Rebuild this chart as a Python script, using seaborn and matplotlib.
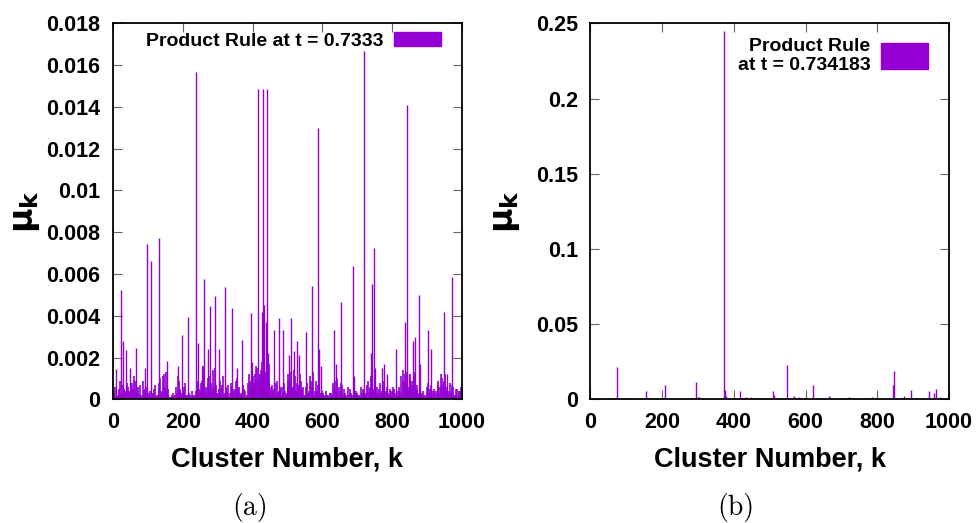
import matplotlib
matplotlib.use("Agg")
import matplotlib.pyplot as plt
from matplotlib.patches import Patch
import seaborn as sns
import numpy as np

# panel (a): product rule at t = 0.7333 -- visible spikes
spike_k_a = [8, 24, 29, 37, 49, 66, 92, 96, 109, 133, 142, 156, 187, 197, 216,
             237, 244, 255, 260, 272, 279, 292, 305, 320, 342, 355, 371, 396, 398, 415,
             428, 430, 432, 438, 442, 445, 462, 476, 488, 505, 511, 520, 528, 533, 553,
             572, 588, 590, 596, 635, 640, 654, 687, 690, 720, 740, 743, 748, 752, 771,
             776, 785, 812, 838, 844, 848, 860, 866, 877, 880, 904, 912, 949, 958, 972]
spike_mu_a = [0.00144, 0.00523, 0.0028, 0.00236, 0.0015, 0.00246, 0.0015, 0.00743, 0.00662, 0.00772,
              0.0009, 0.00183, 0.0016, 0.0031, 0.00396, 0.01568, 0.0027, 0.0016, 0.00576, 0.0024,
              0.00448, 0.00496, 0.0024, 0.00539, 0.00437, 0.0015, 0.00283, 0.00415, 0.0018, 0.01486,
              0.0042, 0.01486, 0.0045, 0.0037, 0.01486, 0.0022, 0.0033, 0.0039, 0.0033, 0.0021,
              0.0039, 0.0023, 0.0028, 0.0021, 0.0032, 0.00544, 0.0130, 0.0024, 0.0016, 0.0033,
              0.0017, 0.00466, 0.00638, 0.0011, 0.01669, 0.0022, 0.00552, 0.00723, 0.0015, 0.0015,
              0.0017, 0.0012, 0.0024, 0.0037, 0.01409, 0.0012, 0.0028, 0.0030, 0.00499, 0.0017,
              0.0033, 0.0024, 0.0042, 0.0012, 0.00587]

# panel (a): low background read off in 1e-4 units
# clusters 3, 8, 13, ...
base_k_a = list(range(3, 1000, 5))
base_mu_a = [3, 1, 2, 5, 3, 7, 4, 2, 6, 3,
             8, 5, 9, 3, 6, 2, 1, 4, 2, 6,
             3, 1, 2, 5, 1, 2, 8, 4, 11, 6,
             13, 5, 1, 2, 1, 2, 3, 9, 4, 2,
             6, 2, 1, 3, 1, 2, 1, 4, 6, 3,
             8, 16, 5, 3, 7, 11, 4, 6, 15, 3,
             5, 2, 7, 3, 6, 4, 1, 8, 3, 5,
             9, 5, 3, 1, 7, 4, 2, 1, 9, 10,
             8, 12, 15, 10, 14, 11, 9, 13, 8, 17,
             6, 4, 2, 8, 3, 5, 2, 6, 4, 3,
             12, 7, 5, 14, 4, 8, 3, 9, 5, 2,
             6, 3, 1, 9, 13, 4, 2, 7, 3, 2,
             3, 1, 2, 1, 3, 2, 5, 9, 4, 6,
             8, 3, 5, 2, 6, 1, 3, 1, 2, 4,
             2, 1, 3, 5, 2, 7, 3, 5, 8, 4,
             4, 2, 5, 3, 6, 2, 4, 3, 5, 2,
             6, 3, 1, 2, 4, 3, 9, 12, 8, 6,
             10, 7, 13, 5, 4, 3, 2, 4, 1, 2,
             8, 5, 2, 4, 3, 1, 7, 6, 10, 9,
             12, 6, 4, 3, 7, 2, 5, 1, 4, 6]
# clusters 1, 6, 11, ...
base2_k_a = list(range(1, 1000, 5))
base2_mu_a = [2, 6, 1, 4, 9, 2, 5, 3, 8, 4,
              5, 2, 11, 4, 3, 7, 2, 9, 5, 3,
              2, 4, 1, 3, 7, 2, 5, 10, 3, 12,
              4, 2, 1, 1, 3, 1, 6, 11, 5, 3,
              3, 8, 2, 1, 2, 4, 1, 2, 9, 5,
              4, 9, 12, 6, 10, 3, 8, 14, 5, 7,
              3, 9, 5, 11, 2, 4, 7, 3, 6, 2,
              4, 10, 6, 2, 3, 5, 1, 8, 12, 6,
              11, 6, 16, 9, 12, 18, 14, 10, 15, 9,
              3, 7, 5, 2, 9, 4, 6, 3, 8, 2,
              9, 4, 13, 6, 11, 3, 7, 12, 4, 6,
              2, 8, 4, 11, 6, 2, 9, 4, 12, 3,
              1, 2, 4, 2, 1, 3, 8, 4, 10, 2,
              4, 7, 2, 3, 1, 2, 5, 2, 9, 3,
              3, 2, 6, 2, 4, 3, 9, 6, 11, 5,
              2, 6, 3, 8, 4, 9, 3, 6, 2, 4,
              3, 5, 2, 4, 6, 11, 14, 9, 13, 4,
              12, 9, 5, 11, 7, 2, 5, 3, 2, 1,
              6, 3, 7, 2, 5, 4, 9, 3, 12, 7,
              9, 4, 2, 8, 3, 6, 2, 5, 3, 4]

# panel (b): product rule at t = 0.734183
spike_k_b = [57, 73, 99, 154, 160, 181, 208, 294, 300, 304, 372, 375, 378, 418, 427,
             433, 448, 493, 510, 512, 547, 565, 567, 583, 598, 620, 621, 641, 664, 668,
             700, 706, 721, 731, 786, 844, 848, 874, 895, 912, 944, 958, 963, 976, 988]
spike_mu_b = [0.001, 0.0213, 0.0007, 0.0055, 0.0012, 0.0011, 0.0095, 0.0115, 0.0013, 0.0013,
              0.2449, 0.0062, 0.0025, 0.0057, 0.0008, 0.0013, 0.0016, 0.0008, 0.0057, 0.0028,
              0.0228, 0.0015, 0.0025, 0.0013, 0.0012, 0.0014, 0.0098, 0.0010, 0.0021, 0.0014,
              0.0009, 0.0008, 0.0013, 0.0010, 0.0018, 0.0095, 0.0188, 0.0020, 0.0059, 0.0012,
              0.0057, 0.0044, 0.0071, 0.0014, 0.0008]

yticks_a = [0, 0.002, 0.004, 0.006, 0.008, 0.01, 0.012, 0.014, 0.016, 0.018]
yticks_b = [0, 0.05, 0.1, 0.15, 0.2, 0.25]
xticks = [0, 200, 400, 600, 800, 1000]

purple = "#9400d3"

sns.set_style("ticks")
plt.rcParams['font.family'] = ['Liberation Sans Narrow', 'DejaVu Sans Condensed',
                               'Liberation Sans', 'DejaVu Sans']
plt.rcParams['font.weight'] = 'bold'
plt.rcParams['text.color'] = 'black'
plt.rcParams['axes.labelcolor'] = 'black'
plt.rcParams['mathtext.fontset'] = 'dejavusans'

fig = plt.figure(figsize=(9.77, 5.23), dpi=100)
ax_a = fig.add_axes([0.1157, 0.2365, 0.3569, 0.7189])
ax_b = fig.add_axes([0.6044, 0.2365, 0.3669, 0.7189])


def style_axis(ax, yticks, ylim, ylabel_x):
    ax.set_xlim(0, 1000)
    ax.set_ylim(*ylim)
    ax.set_xticks(xticks)
    ax.set_yticks(yticks)
    ax.set_yticklabels([f"{v:g}" for v in yticks])
    ax.tick_params(direction='in', length=6.5, width=0.8, color='#666666',
                   labelcolor='black', top=True, right=True, labelsize=15.5, pad=9)
    for s in ax.spines.values():
        s.set_color('black')
        s.set_linewidth(1.3)
    ax.set_xlabel("Cluster Number, k", fontsize=19.5, fontweight='bold')
    ax.xaxis.set_label_coords(0.5, -0.125)
    ax.set_ylabel(r'$\mathrm{\mu}_{\mathbf{k}}$', fontsize=24, fontweight='normal')
    ax.yaxis.set_label_coords(ylabel_x, 0.5)


# (a)
ax_a.vlines(base_k_a, 0, np.array(base_mu_a) * 1e-4, color=purple, linewidth=1.2)
ax_a.vlines(base2_k_a, 0, np.array(base2_mu_a) * 1e-4, color=purple, linewidth=1.2)
ax_a.vlines(spike_k_a, 0, spike_mu_a, color=purple, linewidth=1.0)
style_axis(ax_a, yticks_a, (0, 0.018), -0.204)
leg = ax_a.legend(handles=[Patch(color=purple)], labels=["Product Rule at t = 0.7333"],
                  loc='upper right', bbox_to_anchor=(0.941, 0.976), frameon=False,
                  markerfirst=False, fontsize=14, handlelength=2.4, handleheight=0.72,
                  handletextpad=0.55, borderpad=0, borderaxespad=0)

# (b)
ax_b.vlines(spike_k_b, 0, spike_mu_b, color=purple, linewidth=1.0)
style_axis(ax_b, yticks_b, (0, 0.25), -0.191)
leg = ax_b.legend(handles=[Patch(color=purple)], labels=["Product Rule\nat t = 0.734183"],
                  loc='upper right', bbox_to_anchor=(0.941, 0.962), frameon=False,
                  markerfirst=False, fontsize=14, handlelength=2.4, handleheight=1.65,
                  handletextpad=0.55, borderpad=0, borderaxespad=0)
for t in leg.get_texts():
    t.set_multialignment('right')

fig.text(0.2559, 0.0287, "(a)", family='cmr10', fontweight='normal',
         fontsize=20, ha='center', va='center')
fig.text(0.7533, 0.0287, "(b)", family='cmr10', fontweight='normal',
         fontsize=20, ha='center', va='center')

fig.savefig("out.png", dpi=100)
